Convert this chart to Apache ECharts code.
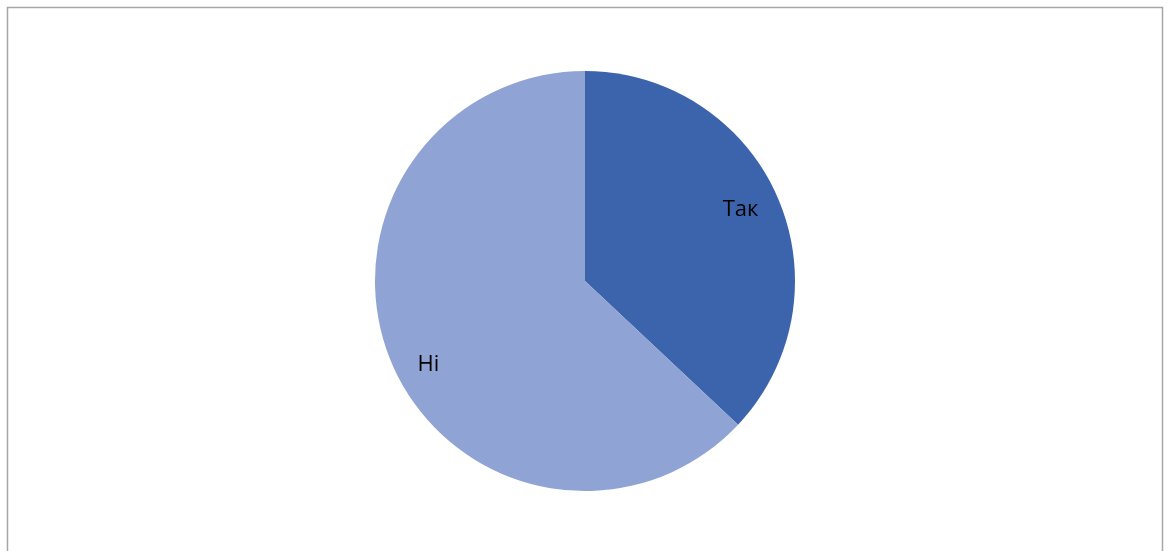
<!DOCTYPE html>
<html>
<head>
<meta charset="utf-8">
<script src="https://cdn.jsdelivr.net/npm/echarts@6/dist/echarts.min.js"></script>
<style>
  html, body { margin: 0; padding: 0; background: #ffffff; }
  #chart { width: 1168px; height: 551px; }
</style>
</head>
<body>
<div id="chart"></div>
<script>
// Answer categories and their shares
const categories = ['Так', 'Ні'];
const values = [37, 63];
const colors = ['#3C64AC', '#8FA4D4'];
// small nudges for each category label, in px
const labelNudges = [[-6, -1], [5, 14]];

const pieData = categories.map((name, i) => ({
  name: name,
  value: values[i],
  itemStyle: { color: colors[i] }
}));

// same slices, transparent, used only to place the labels near the rim
const labelData = categories.map((name, i) => ({
  name: name,
  value: values[i],
  itemStyle: { color: 'rgba(0,0,0,0)' },
  label: { offset: labelNudges[i] }
}));

const chart = echarts.init(document.getElementById('chart'), null, { renderer: 'canvas' });

chart.setOption({
  animation: false,
  backgroundColor: '#ffffff',
  graphic: [{
    type: 'rect',
    shape: { x: 7.5, y: 7.5, width: 1155, height: 600 },
    style: { fill: 'none', stroke: '#a6a6a6', lineWidth: 1.5 },
    silent: true
  }],
  series: [
    {
      type: 'pie',
      center: [585, 281],
      radius: 210,
      startAngle: 90,
      clockwise: true,
      label: { show: false },
      labelLine: { show: false },
      emphasis: { disabled: true },
      silent: true,
      data: pieData
    },
    {
      type: 'pie',
      center: [585, 281],
      radius: [150, 196],
      startAngle: 90,
      clockwise: true,
      label: {
        show: true,
        position: 'inside',
        formatter: '{b}',
        color: '#000000',
        fontFamily: 'Open Sans',
        fontSize: 22
      },
      labelLine: { show: false },
      emphasis: { disabled: true },
      silent: true,
      data: labelData
    }
  ]
});
</script>
</body>
</html>
